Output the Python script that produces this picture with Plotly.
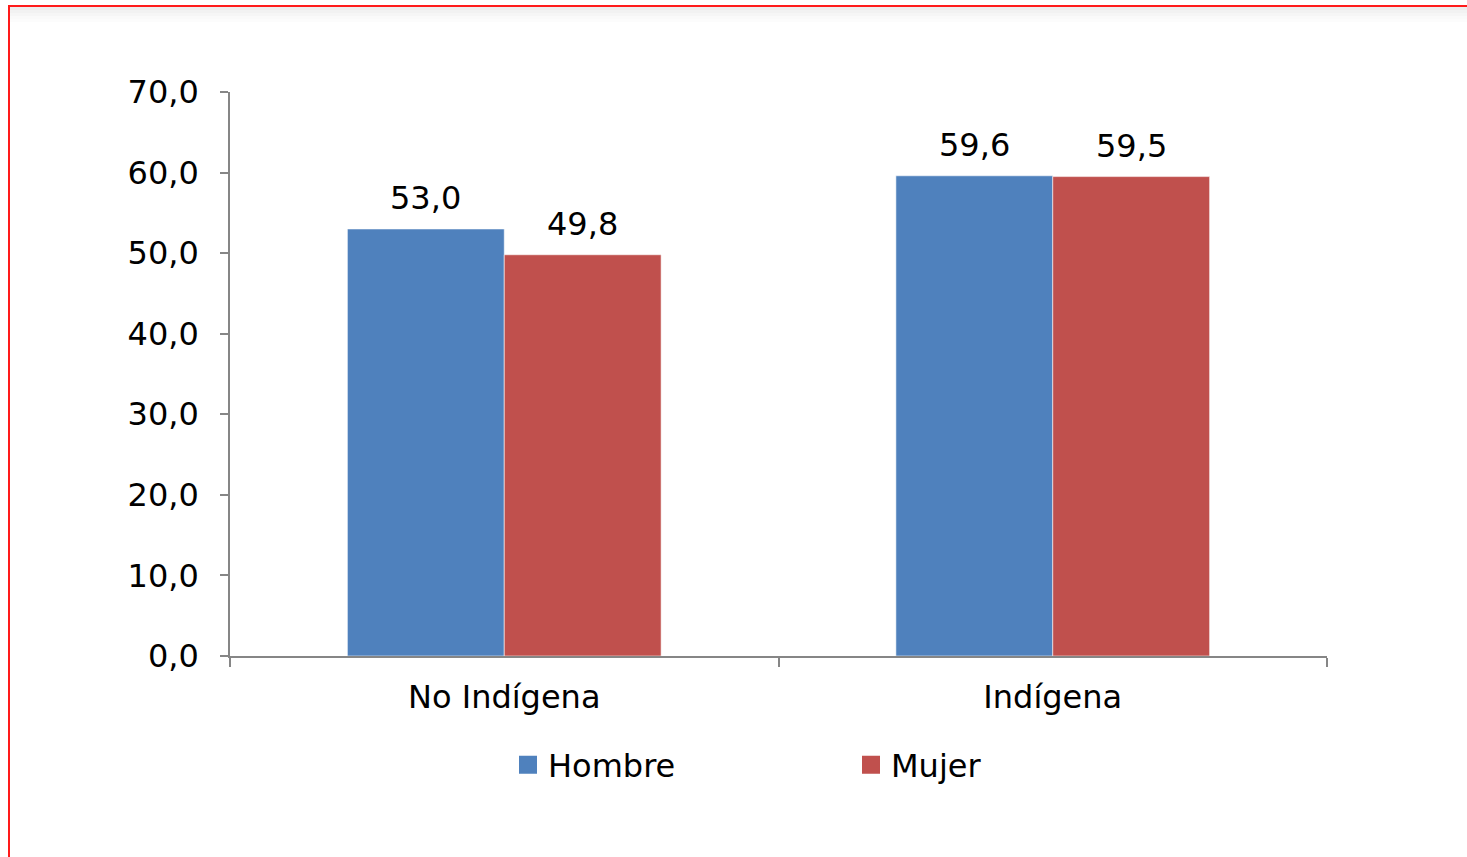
import plotly.graph_objects as go

categories = ["No Indígena", "Indígena"]
series_names = ["Hombre", "Mujer"]
hombre = [53.0, 59.6]
mujer = [49.8, 59.5]
y_ticks = [0, 10, 20, 30, 40, 50, 60, 70]

colors = {"Hombre": "#4F81BD", "Mujer": "#C0504D"}
FONT = "DejaVu Sans, Verdana, sans-serif"
FS = 32

W, H = 1467, 857
L, R, T, B = 230, 140, 92, 201
pw, ph = W - L - R, H - T - B

fig = go.Figure()
for name, vals in zip(series_names, [hombre, mujer]):
    fig.add_trace(go.Bar(
        x=categories, y=vals, name=name,
        marker=dict(color=colors[name], line=dict(color="rgba(255,255,255,0.55)", width=1)),
        showlegend=False,
    ))
# legend entries
for name in series_names:
    fig.add_trace(go.Scatter(
        x=[None], y=[None], mode="markers", name=name,
        marker=dict(symbol="square", size=16, color=colors[name],
                    line=dict(color=colors[name], width=2)),
        showlegend=True,
    ))

# data labels
annotations = []
for sname, vals, shift in [("Hombre", hombre, -78.5), ("Mujer", mujer, 78.5)]:
    for c, v in zip(categories, vals):
        annotations.append(dict(
            x=c, y=v, xref="x", yref="y", text=f"{v:.1f}".replace(".", ","),
            showarrow=False, xanchor="center", yanchor="bottom",
            xshift=shift, yshift=10,
            font=dict(family=FONT, size=FS, color="#000000"),
        ))

def px_x(px):
    return (px - L) / pw

def px_y(py):
    return (H - B - py) / ph

shapes = [
    dict(type="rect", xref="paper", yref="paper",
         x0=px_x(9), x1=px_x(1480), y0=px_y(880), y1=px_y(6),
         line=dict(color="#FF1A1A", width=2), fillcolor="rgba(0,0,0,0)", layer="above"),
]
# faint shadow under the top border
for i, a in enumerate([0.07, 0.05, 0.035, 0.02, 0.01]):
    shapes.append(dict(type="rect", xref="paper", yref="paper",
                       x0=px_x(10), x1=px_x(1480), y0=px_y(10 + 3 * i), y1=px_y(7 + 3 * i),
                       line=dict(width=0), fillcolor=f"rgba(0,0,0,{a})", layer="below"))

fig.update_layout(
    width=W, height=H,
    margin=dict(l=L, r=R, t=T, b=B, autoexpand=False),
    paper_bgcolor="white", plot_bgcolor="white",
    separators=",.",
    barmode="group", bargap=0.428, bargroupgap=0,
    font=dict(family=FONT, size=FS, color="#000000"),
    annotations=annotations,
    showlegend=True,
    legend=dict(
        orientation="h", x=px_x(508), y=px_y(765), xanchor="left", yanchor="middle",
        font=dict(family=FONT, size=FS, color="#000000"),
        entrywidth=298, entrywidthmode="pixels",
        bgcolor="rgba(0,0,0,0)",
    ),
    xaxis=dict(
        type="category", range=[-0.5, 1.5],
        showline=True, linecolor="#868686", linewidth=1.5,
        ticks="outside", tickson="boundaries", ticklen=9, tickcolor="#868686", tickwidth=1.5,
        showgrid=False, zeroline=False,
        tickfont=dict(family=FONT, size=FS, color="#000000"),
        ticklabelstandoff=12,
    ),
    yaxis=dict(
        range=[0, 70], tickvals=y_ticks, tickformat=".1f",
        showline=True, linecolor="#868686", linewidth=1.5,
        ticks="outside", ticklen=8, tickcolor="#868686", tickwidth=1.5,
        showgrid=False, zeroline=False,
        tickfont=dict(family=FONT, size=FS, color="#000000"),
        ticklabelstandoff=15,
    ),
    shapes=shapes,
)

fig.write_html("out.html", config={"displayModeBar": False},
               post_script="document.body.style.margin='0';")
